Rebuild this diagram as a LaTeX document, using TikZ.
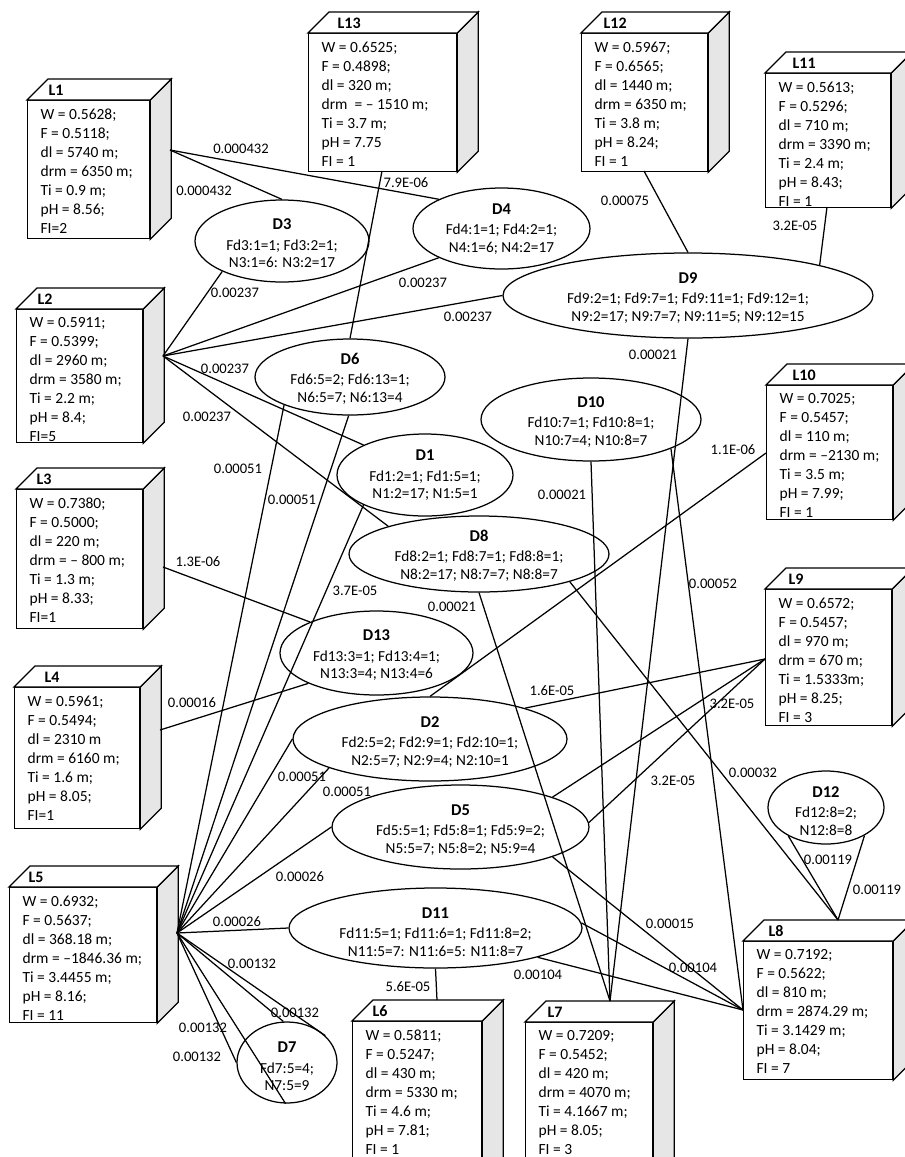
\documentclass[tikz,border=0pt]{standalone}
\usepackage{fontspec}
\setmainfont{Carlito}
\usetikzlibrary{shapes.geometric,calc}
\definecolor{sidegray}{RGB}{230,230,230}

\tikzset{
  lbox/.style={draw, fill=white, rectangle, inner sep=0pt},
  ltitle/.style={font=\fontsize{16}{18}\selectfont\bfseries, inner sep=0pt, anchor=west},
  lbody/.style={font=\fontsize{15.5}{19}\selectfont, align=left, inner sep=0pt, anchor=north west},
  ell/.style={draw, ellipse, inner sep=0pt},
  etxt/.style={font=\fontsize{15.3}{17.5}\selectfont, align=center, inner sep=0pt},
  wlbl/.style={font=\fontsize{14.6}{16}\selectfont, inner sep=0pt},
  link/.style={line width=1.25pt}
}

% location box: name, x1, y1, x2, y2, title offset, title, body
\newcommand{\locbox}[8]{%
  \node[lbox, minimum width={(#4-#2)*1pt}, minimum height={(#5-#3)*1pt}, anchor=north west] (#1) at (#2,#3) {};
  \filldraw[fill=sidegray] (#1.north east) -- ++(21,-21) -- ($(#1.south east)+(21,-21)$) -- (#1.south east) -- cycle;
  \filldraw[fill=white] (#1.north west) -- ++(21,-21) -- ($(#1.north east)+(21,-21)$) -- (#1.north east) -- cycle;
  \node[ltitle] (#1t) at ($(#1.north west)+(#6,-10)$) {#7};
  \node[lbody] (#1x) at ($(#1.north west)+(13,8)$) {#8};
}
\newcommand{\dname}[1]{{\fontsize{16.5}{17.5}\selectfont\bfseries #1}}

\begin{document}
\begin{tikzpicture}[x=1pt, y=-1pt, line width=1.25pt, line join=miter]
\fill[white] (0,0) rectangle (905,1157);
\useasboundingbox (0,0) rectangle (905,1157);

% ---------- decision ellipses ----------
\node[ell, minimum width=174pt, minimum height=82pt] (D3) at (282,241) {};
\node[ell, minimum width=177pt, minimum height=81pt] (D4) at (501.5,228.5) {};
\node[ell, minimum width=370pt, minimum height=85pt] (D9) at (688,295.5) {};
\node[ell, minimum width=190pt, minimum height=76pt] (D6) at (350,377) {};
\node[ell, minimum width=220pt, minimum height=83pt] (D10) at (591,419.5) {};
\node[ell, minimum width=176pt, minimum height=82pt] (D1) at (425,475) {};
\node[ell, minimum width=260pt, minimum height=76pt] (D8) at (479,554) {};
\node[ell, minimum width=193pt, minimum height=84pt] (D13) at (376.5,653) {};
\node[ell, minimum width=274pt, minimum height=84pt] (D2) at (430,739) {};
\node[ell, minimum width=257pt, minimum height=84pt] (D5) at (460.5,827) {};
\node[ell, minimum width=293pt, minimum height=80pt] (D11) at (435.5,928) {};
\node[ell, minimum width=100pt, minimum height=81pt] (D7) at (287,1062.5) {};
\node[ell, minimum width=116pt, minimum height=73pt] (D12) at (826,807.5) {};

\node[etxt] (D3t) at ($(D3)+(0,2.5)$) {\dname{D3}\\[3pt]Fd3:1=1; Fd3:2=1;\\N3:1=6: N3:2=17};
\node[etxt] (D4t) at ($(D4)+(0,0.5)$) {\dname{D4}\\[3pt]Fd4:1=1; Fd4:2=1;\\N4:1=6; N4:2=17};
\node[etxt] (D9t) at ($(D9)+(0,2.5)$) {\dname{D9}\\[3pt]Fd9:2=1; Fd9:7=1; Fd9:11=1; Fd9:12=1;\\N9:2=17; N9:7=7; N9:11=5; N9:12=15};
\node[etxt] (D6t) at ($(D6)+(0,1.5)$) {\dname{D6}\\[3pt]Fd6:5=2; Fd6:13=1;\\N6:5=7; N6:13=4};
\node[etxt] (D10t) at ($(D10)+(0,2.5)$) {\dname{D10}\\[3pt]Fd10:7=1; Fd10:8=1;\\N10:7=4; N10:8=7};
\node[etxt] (D1t) at ($(D1)+(0,0.5)$) {\dname{D1}\\[3pt]Fd1:2=1; Fd1:5=1;\\N1:2=17; N1:5=1};
\node[etxt] (D8t) at ($(D8)+(0,1.5)$) {\dname{D8}\\[3pt]Fd8:2=1; Fd8:7=1; Fd8:8=1;\\N8:2=17; N8:7=7; N8:8=7};
\node[etxt] (D13t) at ($(D13)+(0,2.5)$) {\dname{D13}\\[3pt]Fd13:3=1; Fd13:4=1;\\N13:3=4; N13:4=6};
\node[etxt] (D2t) at ($(D2)+(0,3)$) {\dname{D2}\\[3pt]Fd2:5=2; Fd2:9=1; Fd2:10=1;\\N2:5=7; N2:9=4; N2:10=1};
\node[etxt] (D5t) at ($(D5)+(0,3)$) {\dname{D5}\\[3pt]Fd5:5=1; Fd5:8=1; Fd5:9=2;\\N5:5=7; N5:8=2; N5:9=4};
\node[etxt] (D11t) at ($(D11)+(0,4)$) {\dname{D11}\\[3pt]Fd11:5=1; Fd11:6=1; Fd11:8=2;\\N11:5=7: N11:6=5: N11:8=7};
\node[etxt] (D7t) at ($(D7)+(0,4)$) {\dname{D7}\\[3pt]Fd7:5=4;\\N7:5=9};
\node[etxt] (D12t) at ($(D12)+(0,3.5)$) {\dname{D12}\\[3pt]Fd12:8=2;\\N12:8=8};

% ---------- location boxes ----------
\locbox{L1}{27}{100}{149}{238}{21}{L1}{W = 0.5628;\\F = 0.5118;\\dl = 5740 m;\\drm = 6350 m;\\Ti = 0.9 m;\\pH = 8.56;\\FI=2}
\locbox{L13}{308}{33}{456}{171}{29}{L13}{W = 0.6525;\\F = 0.4898;\\dl = 320 m;\\drm\ \ = \textendash\ 1510 m;\\Ti = 3.7 m;\\pH = 7.75\\FI = 1}
\locbox{L12}{581}{33}{707}{171}{22}{L12}{W = 0.5967;\\F = 0.6565;\\dl = 1440 m;\\drm = 6350 m;\\Ti = 3.8 m;\\pH = 8.24;\\FI = 1}
\locbox{L11}{765}{73}{890}{207}{27}{L11}{W = 0.5613;\\F = 0.5296;\\dl = 710 m;\\drm = 3390 m;\\Ti = 2.4 m;\\pH = 8.43;\\FI = 1}
\locbox{L2}{16}{309}{142}{442}{21}{L2}{W = 0.5911;\\F = 0.5399;\\dl = 2960 m;\\drm = 3580 m;\\Ti = 2.2 m;\\pH = 8.4;\\FI=5}
\locbox{L3}{16}{489}{142}{628}{20}{L3}{W = 0.7380;\\F = 0.5000;\\dl = 220 m;\\drm = \textendash\ 800 m;\\Ti = 1.3 m;\\pH = 8.33;\\FI=1}
\locbox{L4}{14}{687}{139}{828}{30}{L4}{W = 0.5961;\\F = 0.5494;\\dl = 2310 m\\drm = 6160 m;\\Ti = 1.6 m;\\pH = 8.05;\\FI=1}
\locbox{L5}{9}{887}{156}{1022}{19}{L5}{W = 0.6932;\\F = 0.5637;\\dl = 368.18 m;\\drm = \textendash1846.36 m;\\Ti = 3.4455 m;\\pH = 8.16;\\FI = 11}
\locbox{L10}{766}{385}{892}{519}{26}{L10}{W = 0.7025;\\F = 0.5457;\\dl = 110 m;\\drm = \textendash2130 m;\\Ti = 3.5 m;\\pH = 7.99;\\FI = 1}
\locbox{L9}{765}{589}{891}{725}{23}{L9}{W = 0.6572;\\F = 0.5457;\\dl = 970 m;\\drm = 670 m;\\Ti = 1.5333m;\\pH = 8.25;\\FI = 3}
\locbox{L8}{743}{941}{892}{1079}{25}{L8}{W = 0.7192;\\F = 0.5622;\\dl = 810 m;\\drm = 2874.29 m;\\Ti = 3.1429 m;\\pH = 8.04;\\FI = 7}
\locbox{L6}{352}{1021}{481}{1180}{20}{L6}{W = 0.5811;\\F = 0.5247;\\dl = 430 m;\\drm = 5330 m;\\Ti = 4.6 m;\\pH = 7.81;\\FI = 1}
\locbox{L7}{525}{1022}{652}{1180}{22}{L7}{W = 0.7209;\\F = 0.5452;\\dl = 420 m;\\drm = 4070 m;\\Ti = 4.1667 m;\\pH = 8.05;\\FI = 3}

% connection points on the boxes
\coordinate (L1r) at (170,150);
\coordinate (L2r) at (163,356);
\coordinate (L3r) at (163,567);
\coordinate (L4r) at (160,730);
\coordinate (L5r) at (177,933);
\coordinate (L13b) at (382,171);
\coordinate (L12b) at (644,171);
\coordinate (L11b) at (827,207);
\coordinate (L10l) at (766,453);
\coordinate (L9l) at (765,659);
\coordinate (L8l) at (743,1010);
\coordinate (L8t) at (838,920);
\coordinate (L7t) at (610,1001);
\coordinate (L6t) at (437,1000);

% ---------- links ----------
\draw[link] (L1r) -- (D4.155);
\draw[link] (L1r) -- (D3.90);
\draw[link] (L13b) -- (D6.90);
\draw[link] (L12b) -- (D9.90);
\draw[link] (L11b) -- (D9.13);
\draw[link] (L2r) -- (D3.207);
\draw[link] (L2r) -- (D4.205);
\draw[link] (L2r) -- (D9.180);
\draw[link] (L2r) -- (D1.154);
\draw[link] (L2r) -- (D8.163);
\draw[link] (L3r) -- (D13.155);
\draw[link] (L4r) -- (D13.204);
\draw[link] (L5r) -- (D6.203);
\draw[link] (L5r) -- (D6.268);
\draw[link] (L5r) -- (D1.206);
\draw[link] (L5r) -- (D2.180);
\draw[link] (L5r) -- (D2.196);
\draw[link] (L5r) -- (D5.180);
\draw[link] (L5r) -- (D11.180);
\draw[link] (L5r) -- (D7.35);
\draw[link] (L5r) -- (D7.95);
\draw[link] (L5r) -- (D7.268);
\draw[link] (L5r) -- (D7.180);
\draw[link] (L10l) -- (D2.90);
\draw[link] (L9l) -- (D2.18);
\draw[link] (L9l) -- (D5.18);
\draw[link] (L9l) -- (D5.2);
\draw[link] (L7t) -- (D9.270);
\draw[link] (L7t) -- (D10.270);
\draw[link] (L7t) -- (D8.270);
\draw[link] (L8t) -- (D8.343);
\draw[link] (L8t) -- (D12.217);
\draw[link] (L8t) -- (D12.324);
\draw[link] (L8l) -- (D10.340);
\draw[link] (L8l) -- (D5.342);
\draw[link] (L8l) -- (D11.2);
\draw[link] (L8l) -- (D11.344);
\draw[link] (L6t) -- (D11.270);

% ---------- link weights ----------
\node[wlbl] (w1) at (241,149) {0.000432};
\node[wlbl] (w2) at (204,191) {0.000432};
\node[wlbl] (w3) at (406,183) {7.9E-06};
\node[wlbl] (w4) at (625,201) {0.00075};
\node[wlbl] (w5) at (795,226) {3.2E-05};
\node[wlbl] (w6) at (235,293) {0.00237};
\node[wlbl] (w7) at (423,283) {0.00237};
\node[wlbl] (w8) at (468,317) {0.00237};
\node[wlbl] (w9) at (225,369) {0.00237};
\node[wlbl] (w10) at (207,417) {0.00237};
\node[wlbl] (w11) at (238,469) {0.00051};
\node[wlbl] (w12) at (292,500) {0.00051};
\node[wlbl] (w13) at (355,591) {3.7E-05};
\node[wlbl] (w14) at (198,562) {1.3E-06};
\node[wlbl] (w15) at (192,703) {0.00016};
\node[wlbl] (w16) at (302,777) {0.00051};
\node[wlbl] (w17) at (347,792) {0.00051};
\node[wlbl] (w18) at (300,877) {0.00026};
\node[wlbl] (w19) at (237,922) {0.00026};
\node[wlbl] (w20) at (252,964) {0.00132};
\node[wlbl] (w21) at (295,1013) {0.00132};
\node[wlbl] (w22) at (203,1028) {0.00132};
\node[wlbl] (w23) at (197,1057) {0.00132};
\node[wlbl] (w24) at (408,987) {5.6E-05};
\node[wlbl] (w25) at (538,975) {0.00104};
\node[wlbl] (w26) at (693,968) {0.00104};
\node[wlbl] (w27) at (670,924) {0.00015};
\node[wlbl] (w28) at (732,704) {3.2E-05};
\node[wlbl] (w29) at (673,781) {3.2E-05};
\node[wlbl] (w30) at (552,691) {1.6E-05};
\node[wlbl] (w31) at (733,450) {1.1E-06};
\node[wlbl] (w32) at (452,607) {0.00021};
\node[wlbl] (w33) at (753,773) {0.00032};
\node[wlbl] (w34) at (562,495) {0.00021};
\node[wlbl] (w35) at (713,584) {0.00052};
\node[wlbl] (w36) at (653,355) {0.00021};
\node[wlbl] (w37) at (828,860) {0.00119};
\node[wlbl] (w38) at (877,890) {0.00119};
\end{tikzpicture}
\end{document}
